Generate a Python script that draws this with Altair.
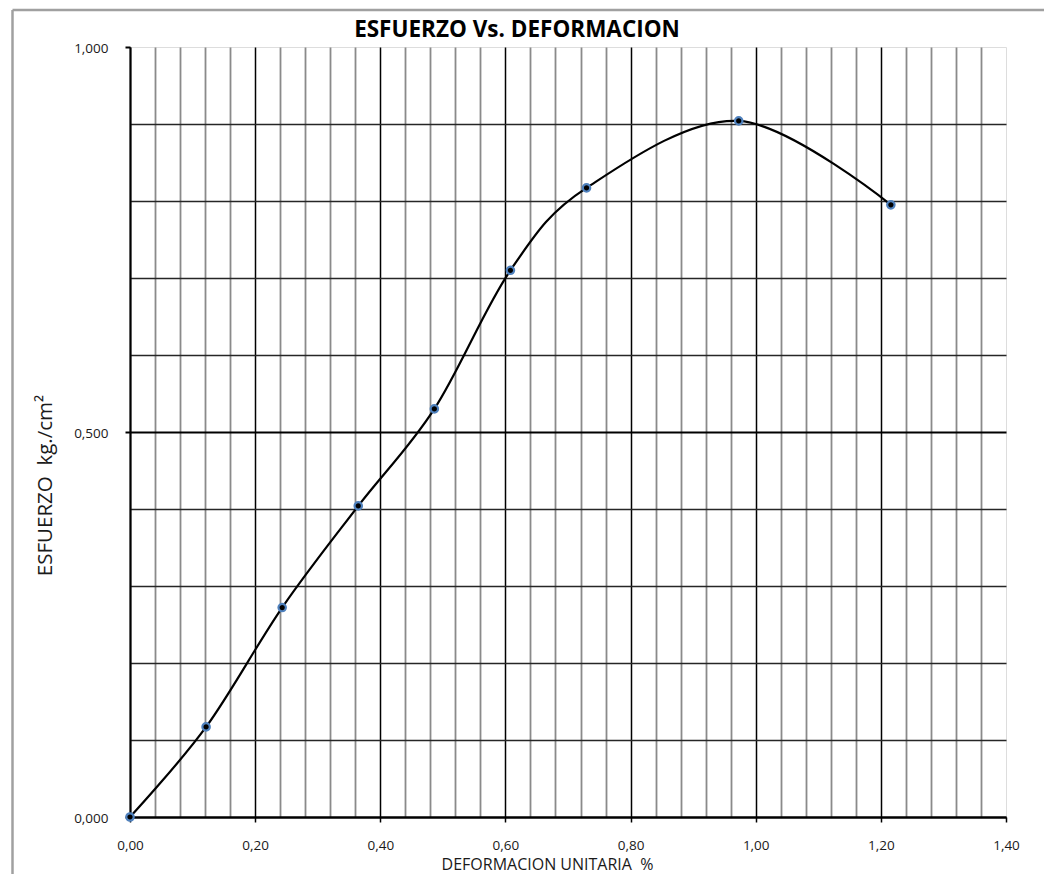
import altair as alt
import pandas as pd

# Data
strain = [0.0, 0.1216, 0.2432, 0.3648, 0.4864, 0.6080, 0.7296, 0.9728, 1.2160]
stress = [0.000, 0.117, 0.272, 0.404, 0.530, 0.710, 0.817, 0.904, 0.795]

x_ticks = [round(i * 0.04, 2) for i in range(36)]
y_ticks = [round(i * 0.1, 1) for i in range(11)]

title_text = "ESFUERZO Vs. DEFORMACION"
x_title = "DEFORMACION UNITARIA\u00a0 %"
y_title = "ESFUERZO\u00a0 kg./cm\u00b2"

FONT = "Open Sans"

df = pd.DataFrame({"x": strain, "y": stress})

major_x = "abs(datum.value*5 - round(datum.value*5)) < 1e-6"
major_y = "abs(datum.value*2 - round(datum.value*2)) < 1e-6"
fmt_x = "replace(format(datum.value, '.2f'), '.', ',')"
fmt_y = "replace(format(datum.value, '.3f'), '.', ',')"

x_axis = alt.Axis(
    values=x_ticks,
    tickCount=60,
    labelExpr=f"({major_x}) ? {fmt_x} : ''",
    grid=True,
    gridColor={"condition": {"test": major_x, "value": "#000000"}, "value": "#8a8a8a"},
    gridWidth={"condition": {"test": major_x, "value": 1.5}, "value": 1.8},
    gridOpacity={"condition": {"test": "datum.value > 1.39", "value": 0}, "value": 1},
    tickSize={"condition": {"test": major_x, "value": 5}, "value": 0},
    tickColor="#000000",
    tickWidth=1.5,
    domainColor="#000000",
    domainWidth=2,
    labelFont=FONT,
    labelFontSize=13.5,
    labelColor="#1a1a1a",
    labelBaseline="alphabetic",
    labelPadding=27,
    labelFlush=False,
    labelOverlap=False,
    title=x_title,
    titleFont=FONT,
    titleFontSize=16,
    titleFontWeight="normal",
    titleColor="#1a1a1a",
    titleX=417,
    titleY=52,
    titleBaseline="alphabetic",
    titleAlign="center",
)

y_axis = alt.Axis(
    values=y_ticks,
    tickCount=30,
    labelExpr=f"({major_y}) ? {fmt_y} : ''",
    grid=True,
    gridColor={"condition": {"test": major_y, "value": "#000000"}, "value": "#262626"},
    gridWidth={"condition": {"test": major_y, "value": 2}, "value": 1.5},
    gridOpacity={"condition": {"test": "datum.value > 0.99", "value": 0}, "value": 1},
    tickSize={"condition": {"test": major_y, "value": 5}, "value": 0},
    tickColor="#000000",
    tickWidth=2,
    domainColor="#000000",
    domainWidth=2,
    labelFont=FONT,
    labelFontSize=13.5,
    labelColor="#1a1a1a",
    labelBaseline="alphabetic",
    labelOffset=5,
    labelPadding=17,
    labelFlush=False,
    labelOverlap=False,
    title=y_title,
    titleFont=FONT,
    titleFontSize=20.5,
    titleFontWeight="normal",
    titleColor="#1a1a1a",
    titleAngle=270,
    titleX=-85,
    titleY=438,
    titleBaseline="middle",
    titleAlign="center",
)

x_enc = alt.X("x:Q", scale=alt.Scale(domain=[0, 1.4], nice=False, zero=False), axis=x_axis)
y_enc = alt.Y("y:Q", scale=alt.Scale(domain=[0, 1.0], nice=False, zero=False), axis=y_axis)

line = alt.Chart(df).mark_line(
    interpolate="cardinal", color="#000000", strokeWidth=2.2, clip=False
).encode(x=x_enc, y=y_enc)

points = alt.Chart(df).mark_point(
    shape="circle", filled=True, fill="#000000", stroke="#4f81bd",
    strokeWidth=2.2, size=55, opacity=1
).encode(x="x:Q", y="y:Q")

# Decorative outer chart-area frame (grey) as in the reference
deco = pd.DataFrame({"k": [0]})
frame_top = alt.Chart(deco).mark_rule(color="#a0a0a0", strokeWidth=2.5, clip=False).encode(
    x=alt.value(-117.5), x2=alt.value(1000), y=alt.value(-37)
)
frame_left = alt.Chart(deco).mark_rule(color="#a0a0a0", strokeWidth=2.5, clip=False).encode(
    x=alt.value(-117.5), y=alt.value(-37), y2=alt.value(900)
)

chart = alt.layer(line, points, frame_top, frame_left).properties(
    width=876,
    height=770,
    padding={"left": 122, "top": 39, "right": 38, "bottom": 57},
    autosize=alt.AutoSizeParams(type="none"),
    title=alt.TitleParams(
        title_text, font=FONT, fontSize=22.5, fontWeight="bold", color="#000000",
        anchor="middle", dx=-51, dy=60, offset=9, baseline="alphabetic",
    ),
).configure_view(
    stroke="#8a8a8a", strokeWidth=2
).configure(background="white")

chart.save("out.html", embed_options={"renderer": "svg", "actions": False})
